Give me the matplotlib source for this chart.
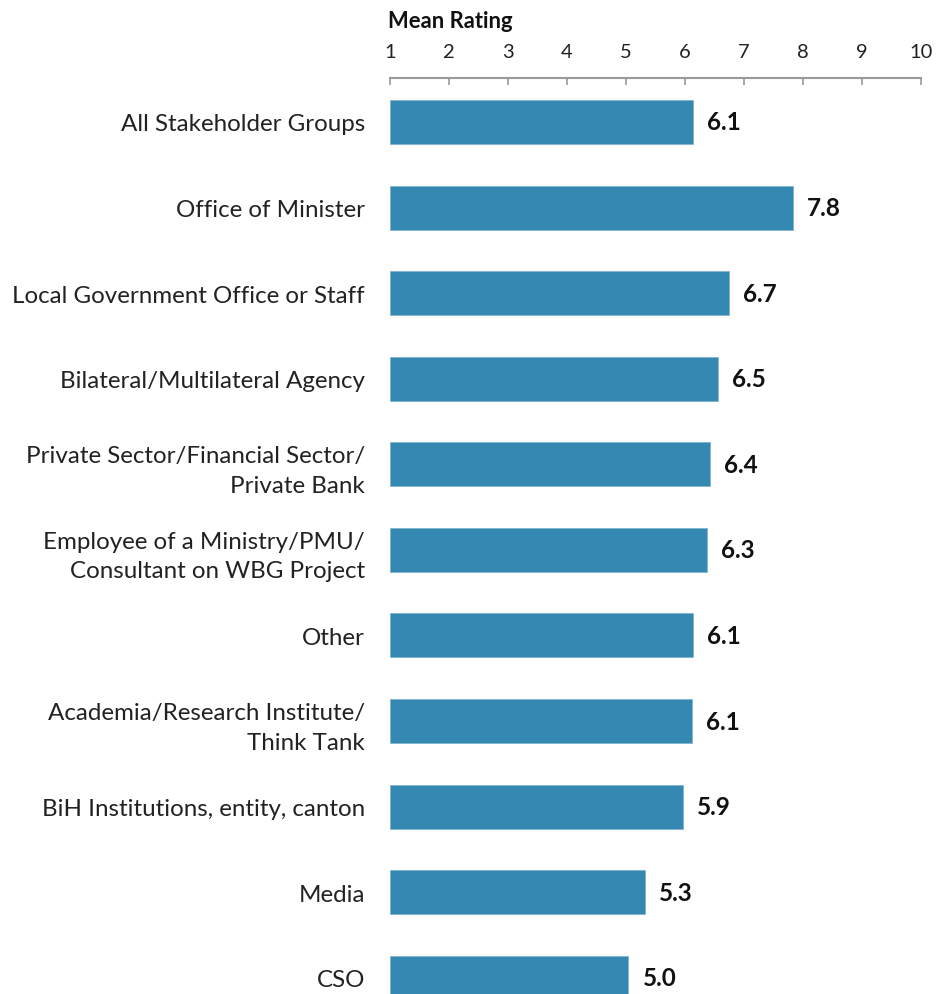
import matplotlib
matplotlib.use("Agg")
import matplotlib.pyplot as plt

categories = ["All Stakeholder Groups", "Office of Minister", "Local Government Office or Staff",
              "Bilateral/Multilateral Agency", "Private Sector/Financial Sector/\nPrivate Bank",
              "Employee of a Ministry/PMU/\nConsultant on WBG Project", "Other",
              "Academia/Research Institute/\nThink Tank", "BiH Institutions, entity, canton",
              "Media", "CSO"]
values = [6.14, 7.83, 6.74, 6.56, 6.42, 6.37, 6.14, 6.12, 5.96, 5.32, 5.04]
value_labels = ["6.1", "7.8", "6.7", "6.5", "6.4", "6.3", "6.1", "6.1", "5.9", "5.3", "5.0"]
ticks = [1, 2, 3, 4, 5, 6, 7, 8, 9, 10]

plt.rcParams['font.family'] = ['Lato', 'DejaVu Sans']
W, H = 938, 995
fig = plt.figure(figsize=(W/100, H/100), dpi=100)
ax = fig.add_axes([390/W, 0, 531/W, 1 - 79/H])

color = "#3488B2"
ypos = list(range(len(categories)))
ax.barh(ypos, [v - 1 for v in values], left=1, height=0.515, color=color,
        edgecolor="#7FB5D0", linewidth=0.6)
ax.set_xlim(1, 10)
ax.set_ylim(10.19, -0.514)
for y, v, lab in zip(ypos, values, value_labels):
    ax.text(v + 0.24, y, lab, va="center", ha="left", fontsize=17.5, fontweight="bold", color="#111111")

ax.set_yticks(ypos)
ax.set_yticklabels(categories, fontsize=17.4, color="#222222", ha="right", linespacing=1.5)
ax.tick_params(axis="y", length=0, pad=18)
ax.xaxis.tick_top()
ax.set_xticks(ticks)
ax.set_xticklabels([str(t) for t in ticks], fontsize=14.5, color="#222222")
ax.tick_params(axis="x", direction="in", length=5, color="#999999", width=1.2, pad=13)
for s in ["bottom", "left", "right"]:
    ax.spines[s].set_visible(False)
ax.spines["top"].set_color("#999999")
ax.spines["top"].set_linewidth(1.5)

fig.text(388/W, 1 - 21/H, "Mean Rating", fontsize=15.8, fontweight="bold", ha="left", va="center", color="#111111")

fig.savefig("out.png", dpi=100)
